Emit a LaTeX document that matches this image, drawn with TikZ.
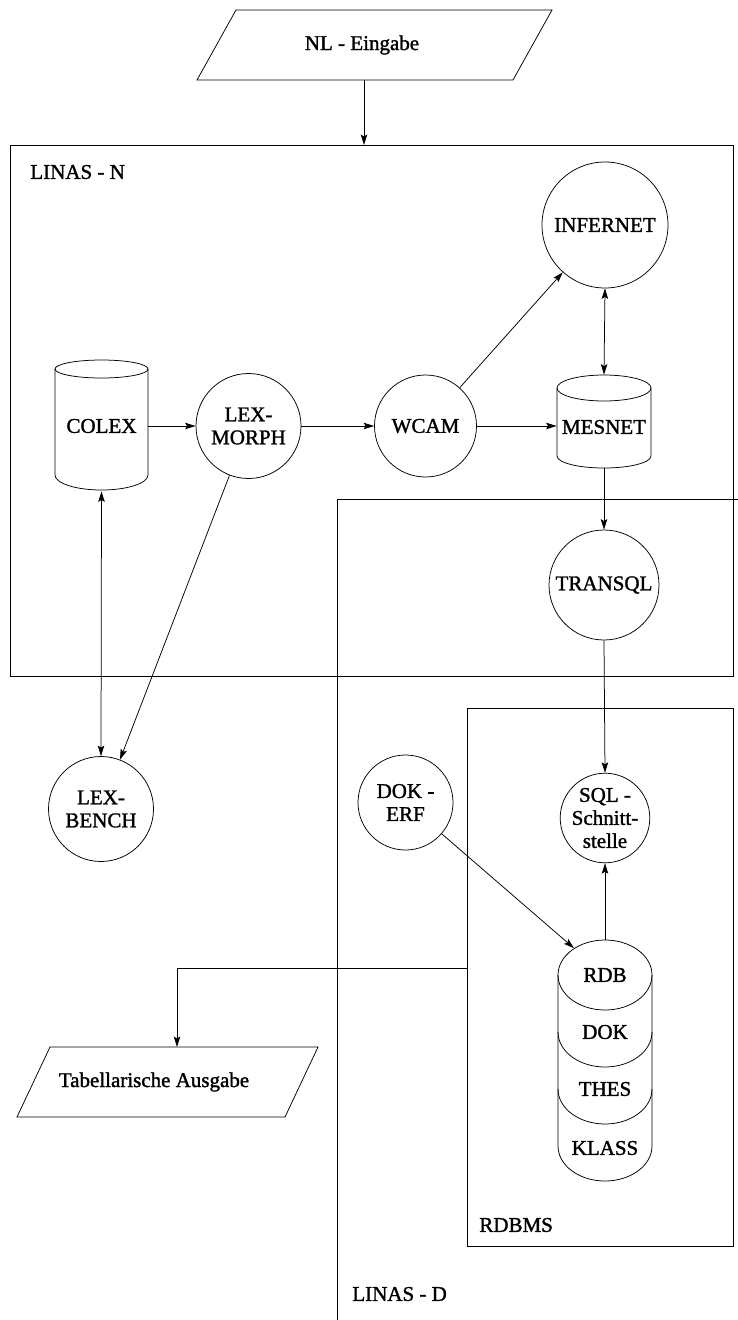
\documentclass[tikz,border=0pt]{standalone}
\usepackage{fontspec}
\setmainfont{Liberation Serif}[BoldFont=Liberation Serif, BoldFeatures={FakeBold=1.4}]
\usetikzlibrary{arrows.meta,shapes.geometric}
\begin{document}
\begin{tikzpicture}[x=1pt,y=-1pt,line width=0.75pt,
  txt/.style={font=\fontsize{21}{23}\selectfont\bfseries, align=center, inner sep=0pt},
  proc/.style={circle, draw, inner sep=0pt, txt},
  tip/.tip={Stealth[length=10.5pt,width=6.5pt,inset=2pt]},
  arr/.style={-tip},
  darr/.style={tip-tip},
  frame/.style={draw, inner sep=0pt, anchor=north west}]
\useasboundingbox (0,0) rectangle (738,1320);

% input parallelogram
\draw (236,10) -- (552,10) -- (513,80) -- (197,80) -- cycle;
\node[txt] (nlin) at (362,45) {NL - Eingabe};
\coordinate (nlbot) at (364,80);

% LINAS-N frame
\node[frame, minimum width=723pt, minimum height=531pt] (linasn) at (10,145) {};
\node[txt, anchor=west] (linasnlabel) at (30,172) {LINAS - N};

% LINAS-D boundary
\coordinate (ldright) at (738,499);
\coordinate (ldcorner) at (337,499);
\coordinate (ldbottom) at (337,1320);
\draw (ldright) -- (ldcorner) -- (ldbottom);
\node[txt, anchor=west] (linasdlabel) at (352,1294) {LINAS - D};

% RDBMS frame
\node[frame, minimum width=266pt, minimum height=538pt] (rdbms) at (467,708) {};
\node[txt, anchor=west] (rdbmslabel) at (479,1225) {RDBMS};

% COLEX store
\draw (55,369) -- (55,475) arc[start angle=180,end angle=360,x radius=46.5pt,y radius=15pt] -- (148,369);
\draw (101.5,369) ellipse[x radius=46.5pt,y radius=9pt];
\node[txt, minimum width=93pt, minimum height=130pt] (colex) at (101.5,426) {COLEX};

% MESNET store
\draw (557,388) -- (557,456) arc[start angle=180,end angle=360,x radius=47pt,y radius=12pt] -- (651,388);
\draw (604,388) ellipse[x radius=47pt,y radius=13pt];
\node[inner sep=0pt, minimum width=94pt, minimum height=93pt] (mesnet) at (604,421.5) {};
\node[txt] (mesnetlabel) at (604,427) {MESNET};

% processes
\node[proc, minimum size=126pt] (infernet) at (605,225) {INFERNET};
\node[proc, minimum size=105pt] (lexmorph) at (248.5,426) {LEX-\\MORPH};
\node[proc, minimum size=102pt] (wcam) at (425.5,426) {WCAM};
\node[proc, minimum size=110pt] (transql) at (604,585) {TRANSQL};
\node[proc, minimum size=105pt] (lexbench) at (101,809) {LEX-\\BENCH};
\node[proc, minimum size=95pt] (dokerf) at (405.5,802.5) {DOK -\\ERF};
\node[proc, minimum size=84pt] (sql) at (605,818) {SQL -\\Schnitt-\\stelle};

% stacked relational store
\node[ellipse, draw, txt, minimum width=94pt, minimum height=70pt] (rdb) at (605,975) {RDB};
\draw (558,975) -- (558,1146) arc[start angle=180,end angle=360,x radius=47pt,y radius=35pt] -- (652,975);
\draw (558,1032) arc[start angle=180,end angle=360,x radius=47pt,y radius=35pt];
\draw (558,1089) arc[start angle=180,end angle=360,x radius=47pt,y radius=35pt];
\node[txt] (dok) at (605,1032) {DOK};
\node[txt] (thes) at (605,1089) {THES};
\node[txt] (klass) at (605,1148) {KLASS};

% output parallelogram
\draw (50,1047) -- (318,1047) -- (285,1117) -- (17,1117) -- cycle;
\node[txt] (tabout) at (154,1082) {Tabellarische Ausgabe};
\coordinate (tabtop) at (177,1047);
\coordinate (tabfeed) at (467,968);

% connectors
\draw[arr] (nlbot) -- (nlbot |- linasn.north);
\draw[arr] (colex.east) -- (lexmorph.west);
\draw[arr] (lexmorph) -- (wcam);
\draw[arr] (wcam.east) -- (mesnet.west |- wcam);
\draw[arr] (wcam) -- (infernet);
\draw[darr] (infernet.south) -- (mesnet.north);
\draw[arr] (mesnet.south) -- (transql.north);
\draw[darr] (colex.south) -- (lexbench.north);
\draw[arr] (lexmorph) -- (lexbench);
\draw[arr] (transql.south) -- (sql.north);
\draw[arr] (rdb.north) -- (sql.south);
\draw[arr] (dokerf) -- (rdb);
\draw[arr] (tabfeed) -| (tabtop);
\end{tikzpicture}
\end{document}
